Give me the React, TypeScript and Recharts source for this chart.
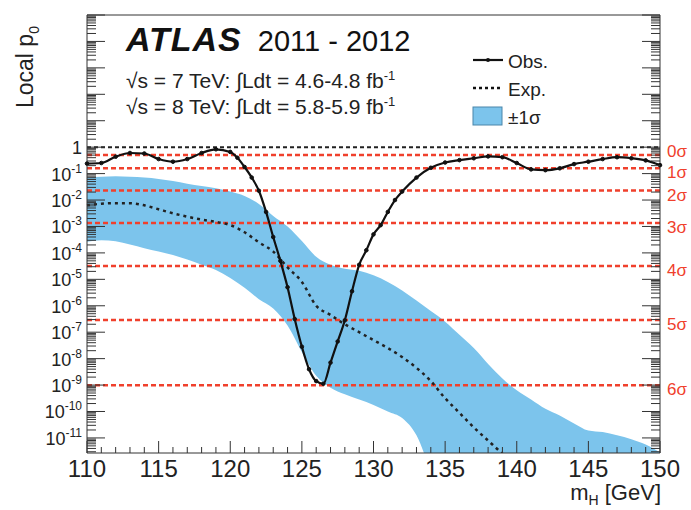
import React from "react";
import {
  ComposedChart,
  Area,
  Line,
  XAxis,
  YAxis,
  ReferenceLine,
} from "recharts";

// log10(p0)
const obsMass = [
  110, 111, 112, 113, 114, 115, 116, 117, 118, 119, 120, 120.5, 121, 121.5, 122,
  122.5, 123, 123.5, 124, 124.5, 125, 125.5, 126, 126.5, 127, 127.5, 128, 128.5,
  129, 129.5, 130, 130.5, 131, 131.5, 132, 133, 134, 135, 136, 137, 138, 139, 140,
  141, 142, 143, 144, 145, 146, 147, 148, 149, 150,
];
const obsLogP = [
  -0.62, -0.6, -0.36, -0.22, -0.24, -0.45, -0.55, -0.45, -0.22, -0.08, -0.18, -0.4,
  -0.75, -1.15, -1.65, -2.45, -3.4, -4.3, -5.3, -6.5, -7.55, -8.4, -8.85, -8.95,
  -8.15, -7.35, -6.55, -5.45, -4.45, -3.9, -3.3, -2.95, -2.45, -2.0, -1.68, -1.15,
  -0.78, -0.58, -0.49, -0.42, -0.35, -0.38, -0.6, -0.84, -0.87, -0.8, -0.64, -0.55,
  -0.45, -0.38, -0.42, -0.5, -0.68,
];

const bandMass = [
  110, 111, 112, 113, 114, 115, 116, 117, 118, 119, 120, 121, 122, 123, 124, 125,
  126, 127, 128, 129, 130, 131, 132, 133, 134, 135, 136, 137, 138, 139, 140, 141,
  142, 143, 144, 145, 146, 147, 148, 149, 150,
];
const expLogP = [
  -2.2, -2.14, -2.12, -2.12, -2.2, -2.35, -2.5, -2.63, -2.74, -2.83, -2.95, -3.22,
  -3.6, -3.95, -4.55, -5.1, -6.0, -6.35, -6.7, -7.0, -7.3, -7.6, -7.94, -8.35,
  -8.85, -9.5, -10.05, -10.6, -11.1, -11.6, -12.1, null, null, null, null, null,
  null, null, null, null, null,
];
const bandHiLogP = [
  -1.15, -1.12, -1.1, -1.12, -1.15, -1.2, -1.28, -1.38, -1.47, -1.55, -1.68, -1.85,
  -2.15, -2.6, -3.0, -3.55, -4.15, -4.45, -4.6, -4.68, -4.85, -5.1, -5.42, -5.8,
  -6.2, -6.6, -7.1, -7.6, -8.2, -8.75, -9.2, -9.55, -9.9, -10.15, -10.45, -10.72,
  -10.78, -10.9, -11.05, -11.25, -11.55,
];
const bandLoLogP = [
  -3.58, -3.52, -3.56, -3.68, -3.82, -3.95, -4.08, -4.25, -4.45, -4.65, -4.95,
  -5.32, -5.75, -6.1, -6.75, -7.75, -8.65, -9.1, -9.35, -9.55, -9.75, -10.0,
  -10.25, -10.9, -12.2, -13, -13, -13, -13, -13, -13, -13, -13, -13, -13, -13, -13,
  -13, -13, -13, -13,
];

const sigmaP = [0.5, 0.1587, 0.02275, 1.35e-3, 3.17e-5, 2.87e-7, 9.87e-10];
const sigmaLabels = ["0σ", "1σ", "2σ", "3σ", "4σ", "5σ", "6σ"];

const xTicks = Array.from({ length: 41 }, (_, i) => 110 + i);
const yTicks: number[] = [];
for (let n = -12; n <= 5; n++) {
  for (let k = 1; k <= 9; k++) {
    const v = n + Math.log10(k);
    if (v >= -11.57 && v <= 5) yTicks.push(v);
  }
}

const obsData = obsMass.map((m, i) => ({ m, obs: obsLogP[i] }));
const bandData = bandMass.map((m, i) => ({
  m,
  exp: expLogP[i],
  band: [bandLoLogP[i], bandHiLogP[i]],
}));

const FONT = "'Liberation Sans', Arial, Helvetica, sans-serif";
const RED = "#f0402c";
const BLUE = "#7cc4ec";
const AXIS = "#333";

const isMajor = (v: number) => Math.abs(v - Math.round(v)) < 1e-6;

function LeftTick({ x, y, payload }: any) {
  const v = payload.value;
  const major = isMajor(v);
  const n = Math.round(v);
  return (
    <g>
      <line x1={x} x2={x + (major ? 18 : 9)} y1={y} y2={y} stroke={AXIS} strokeWidth={1} />
      {major && n <= 0 && n >= -11 && (
        <text x={x - 5} y={y + 7} textAnchor="end" fontSize={18} fill="#222" fontFamily={FONT}>
          {n === 0 ? (
            "1"
          ) : (
            <>
              <tspan>10</tspan>
              <tspan dy={-8} fontSize={12}>{String(n)}</tspan>
            </>
          )}
        </text>
      )}
    </g>
  );
}

function RightTick({ x, y, payload }: any) {
  const major = isMajor(payload.value);
  return <line x1={x} x2={x - (major ? 18 : 9)} y1={y} y2={y} stroke={AXIS} strokeWidth={1} />;
}

function BottomTick({ x, y, payload }: any) {
  const major = payload.value % 5 === 0;
  return (
    <g>
      <line x1={x} x2={x} y1={y} y2={y - (major ? 12 : 6)} stroke={AXIS} strokeWidth={1} />
      {major && (
        <text x={x} y={y + 24} textAnchor="middle" fontSize={24} fill="#222" fontFamily={FONT}>
          {payload.value}
        </text>
      )}
    </g>
  );
}

function TopTick({ x, y, payload }: any) {
  const major = payload.value % 5 === 0;
  return <line x1={x} x2={x} y1={y} y2={y + (major ? 12 : 6)} stroke={AXIS} strokeWidth={1} />;
}

// sigma label to the right of the frame; 0σ sits a bit above its line so it clears 1σ
function SigmaLabel({ viewBox, text, first }: any) {
  const { x, y, width } = viewBox;
  return (
    <text
      x={x + width + 7}
      y={y + (first ? 2 : 10)}
      fontSize={17}
      fill={RED}
      fontFamily={FONT}
    >
      {text}
    </text>
  );
}

export default function App() {
  return (
    <div style={{ position: "absolute", left: 0, top: 0, width: 691, height: 510, background: "#fff", fontFamily: FONT }}>
      <ComposedChart width={691} height={510} margin={{ top: 0, right: 0, bottom: 0, left: 0 }}>
        <XAxis
          xAxisId="bottom"
          dataKey="m"
          type="number"
          domain={[110, 150]}
          ticks={xTicks}
          interval={0}
          height={57}
          tickSize={0}
          tickMargin={0}
          tickLine={false}
          stroke={AXIS}
          tick={<BottomTick />}
          allowDuplicatedCategory={false}
        />
        <XAxis
          xAxisId="top"
          orientation="top"
          dataKey="m"
          type="number"
          domain={[110, 150]}
          ticks={xTicks}
          interval={0}
          height={15}
          tickSize={0}
          tickMargin={0}
          tickLine={false}
          stroke={AXIS}
          tick={<TopTick />}
          allowDuplicatedCategory={false}
        />
        <YAxis
          yAxisId="left"
          type="number"
          domain={[-11.57, 5]}
          allowDataOverflow
          ticks={yTicks}
          interval={0}
          width={87}
          tickSize={0}
          tickMargin={0}
          tickLine={false}
          stroke={AXIS}
          tick={<LeftTick />}
        />
        <YAxis
          yAxisId="right"
          orientation="right"
          type="number"
          domain={[-11.57, 5]}
          allowDataOverflow
          ticks={yTicks}
          interval={0}
          width={31}
          tickSize={0}
          tickMargin={0}
          tickLine={false}
          stroke={AXIS}
          tick={<RightTick />}
        />
        <Area
          data={bandData}
          xAxisId="bottom"
          yAxisId="left"
          dataKey="band"
          type="monotone"
          stroke="none"
          fill={BLUE}
          fillOpacity={1}
          isAnimationActive={false}
        />
        <ReferenceLine xAxisId="bottom" yAxisId="left" y={0} stroke="#222" strokeWidth={2} strokeDasharray="4 3" />
        {sigmaP.map((p, i) => (
          <ReferenceLine
            key={sigmaLabels[i]}
            xAxisId="bottom"
            yAxisId="left"
            y={Math.log10(p)}
            stroke={RED}
            strokeWidth={2.5}
            strokeDasharray="5 3"
            label={<SigmaLabel text={sigmaLabels[i]} first={i === 0} />}
          />
        ))}
        <Line
          data={bandData}
          xAxisId="bottom"
          yAxisId="left"
          dataKey="exp"
          type="monotone"
          stroke="#222"
          strokeWidth={2.5}
          strokeDasharray="3 4"
          dot={false}
          connectNulls={false}
          isAnimationActive={false}
        />
        <Line
          data={obsData}
          xAxisId="bottom"
          yAxisId="left"
          dataKey="obs"
          type="monotone"
          stroke="#111"
          strokeWidth={2.2}
          dot={{ r: 1.8, fill: "#111", stroke: "#111", strokeWidth: 1 }}
          isAnimationActive={false}
        />
      </ComposedChart>

      {/* y-axis title */}
      <div
        style={{
          position: "absolute",
          left: 12,
          top: 108,
          transform: "rotate(-90deg)",
          transformOrigin: "0 0",
          fontSize: 23,
          color: "#222",
          whiteSpace: "nowrap",
        }}
      >
        Local p<sub style={{ fontSize: 14 }}>0</sub>
      </div>

      {/* x-axis title */}
      <div style={{ position: "absolute", right: 30, top: 480, fontSize: 22, color: "#222", whiteSpace: "nowrap" }}>
        m<sub style={{ fontSize: 14 }}>H</sub> [GeV]
      </div>

      {/* ATLAS label */}
      <div style={{ position: "absolute", left: 126, top: 20, whiteSpace: "nowrap", color: "#111" }}>
        <span style={{ fontSize: 34, fontWeight: "bold", fontStyle: "italic", letterSpacing: 1 }}>ATLAS</span>
        <span style={{ fontSize: 29, marginLeft: 16 }}>2011 - 2012</span>
      </div>
      <div style={{ position: "absolute", left: 126, top: 68, fontSize: 21, color: "#222", whiteSpace: "nowrap" }}>
        √s = 7 TeV: ∫Ldt = 4.6-4.8 fb<sup style={{ fontSize: 13 }}>-1</sup>
      </div>
      <div style={{ position: "absolute", left: 126, top: 94, fontSize: 21, color: "#222", whiteSpace: "nowrap" }}>
        √s = 8 TeV: ∫Ldt = 5.8-5.9 fb<sup style={{ fontSize: 13 }}>-1</sup>
      </div>

      {/* legend */}
      <svg style={{ position: "absolute", left: 470, top: 48 }} width={40} height={82}>
        <line x1={3} x2={33} y1={12} y2={12} stroke="#111" strokeWidth={2.2} />
        <circle cx={18} cy={12} r={2} fill="#111" />
        <line x1={3} x2={33} y1={40} y2={40} stroke="#111" strokeWidth={2.5} strokeDasharray="3 3" />
        <rect x={3} y={59} width={29} height={18} fill={BLUE} stroke="#4a86aa" strokeWidth={1} />
      </svg>
      <div style={{ position: "absolute", left: 508, top: 48, fontSize: 19, color: "#222", lineHeight: "28px" }}>
        <div>Obs.</div>
        <div>Exp.</div>
        <div>±1σ</div>
      </div>
    </div>
  );
}
